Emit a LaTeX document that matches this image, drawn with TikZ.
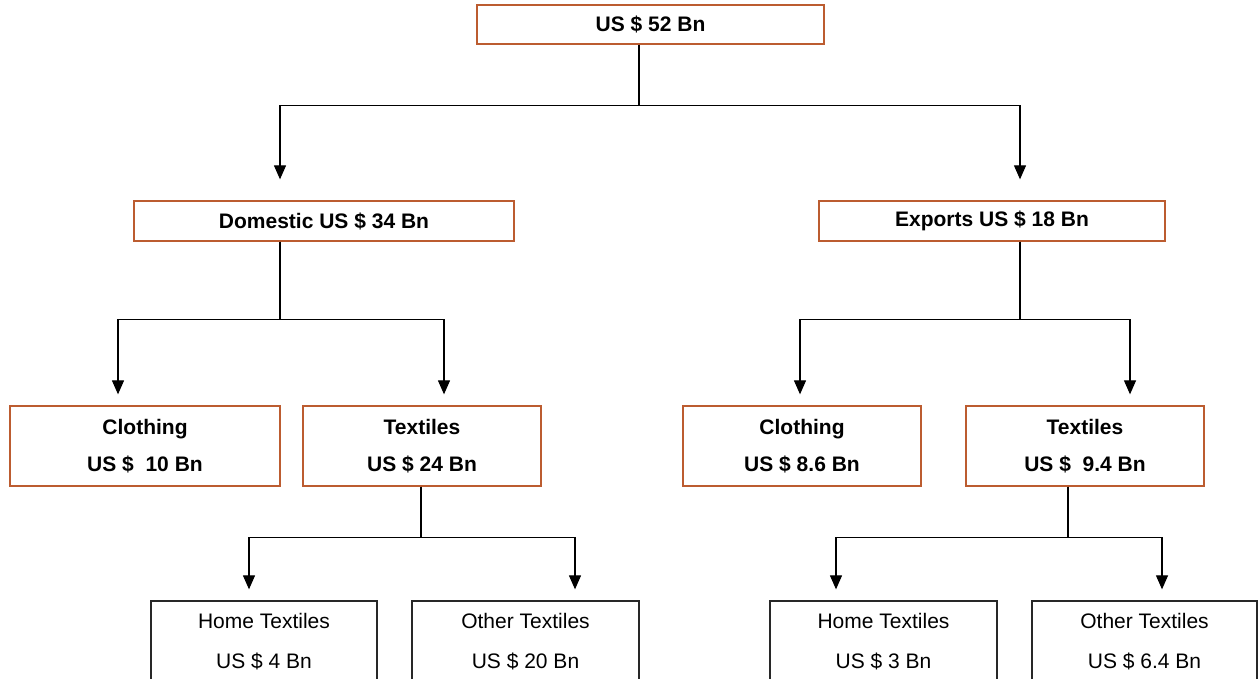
\documentclass[tikz,border=0pt]{standalone}
\usepackage{fontspec}
\setmainfont{Liberation Sans}
\usetikzlibrary{arrows.meta}
\definecolor{boxbrown}{RGB}{188,92,48}
\definecolor{boxgrey}{RGB}{40,40,40}
\tikzset{
  lvlbox/.style={draw=boxbrown, line width=1.3pt, fill=white, inner sep=0pt, align=center,
    font=\fontsize{21}{37}\selectfont\bfseries},
  leafbox/.style={draw=boxgrey, line width=1.3pt, fill=white, inner sep=0pt, align=center,
    font=\fontsize{21}{40}\selectfont, minimum width=226pt, minimum height=82pt},
  conn/.style={line width=1.2pt, draw=black},
  arr/.style={conn, -{Triangle[length=14pt,width=12pt]}},
}
\begin{document}
\begin{tikzpicture}[x=1pt,y=-1pt]
\clip (0,0) rectangle (1260,679);
\fill[white] (0,0) rectangle (1260,679);
% level 0
\node[lvlbox, minimum width=347pt, minimum height=39pt] (top) at (650.5,24.5) {US \$ 52 Bn};
% level 1
\node[lvlbox, minimum width=380pt, minimum height=40pt] (dom) at (324,221) {Domestic US \$ 34 Bn};
\node[lvlbox, minimum width=346pt, minimum height=40pt] (exp) at (992,221) {Exports US \$ 18 Bn};
% level 2
\node[lvlbox, minimum width=270pt, minimum height=80pt] (clothL) at (145,446) {Clothing\\US \$\ \ 10 Bn};
\node[lvlbox, minimum width=238pt, minimum height=80pt] (texL) at (422,446) {Textiles\\US \$ 24 Bn};
\node[lvlbox, minimum width=238pt, minimum height=80pt] (clothR) at (802,446) {Clothing\\US \$ 8.6 Bn};
\node[lvlbox, minimum width=238pt, minimum height=80pt] (texR) at (1085,446) {Textiles\\US \$\ \ 9.4 Bn};
% level 3
\node[leafbox] (homeL) at (264,642) {Home Textiles\\US \$ 4 Bn};
\node[leafbox, minimum width=227pt] (otherL) at (525.5,642) {Other Textiles\\US \$ 20 Bn};
\node[leafbox, minimum width=227pt] (homeR) at (883.5,642) {Home Textiles\\US \$ 3 Bn};
\node[leafbox, minimum width=225pt] (otherR) at (1144.5,642) {Other Textiles\\US \$ 6.4 Bn};
% connectors level 0 -> 1
\draw[arr, shorten >=21pt] ([xshift=-11.5pt]top.south) -- ++(0,61) -| ([xshift=-44pt]dom.north);
\draw[arr, shorten >=21pt] ([xshift=-11.5pt]top.south) -- ++(0,61) -| ([xshift=28pt]exp.north);
% domestic -> level 2
\draw[arr, shorten >=11pt] ([xshift=-44pt]dom.south) -- ++(0,78) -| ([xshift=-27pt]clothL.north);
\draw[arr, shorten >=11pt] ([xshift=-44pt]dom.south) -- ++(0,78) -| ([xshift=22pt]texL.north);
% exports -> level 2
\draw[arr, shorten >=11pt] ([xshift=28pt]exp.south) -- ++(0,78) -| ([xshift=-2pt]clothR.north);
\draw[arr, shorten >=11pt] ([xshift=28pt]exp.south) -- ++(0,78) -| ([xshift=45pt]texR.north);
% textiles -> level 3
\draw[arr, shorten >=11pt] ([xshift=-1pt]texL.south) -- ++(0,51) -| ([xshift=-15pt]homeL.north);
\draw[arr, shorten >=11pt] ([xshift=-1pt]texL.south) -- ++(0,51) -| ([xshift=49.5pt]otherL.north);
\draw[arr, shorten >=11pt] ([xshift=-17pt]texR.south) -- ++(0,51) -| ([xshift=-47.5pt]homeR.north);
\draw[arr, shorten >=11pt] ([xshift=-17pt]texR.south) -- ++(0,51) -| ([xshift=17.5pt]otherR.north);
\end{tikzpicture}
\end{document}
